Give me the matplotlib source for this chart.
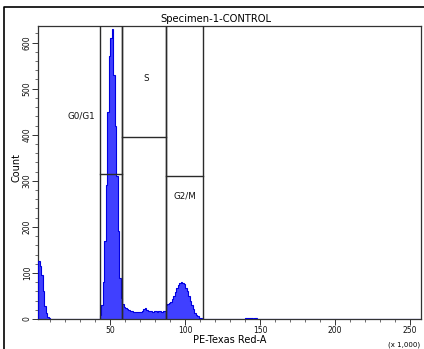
import numpy as np
import matplotlib
matplotlib.use("Agg")
import matplotlib.pyplot as plt
from matplotlib.lines import Line2D

# ---- data (x in thousands, counts per 1k bin) ----
debris_start = 2
debris_counts = [125, 115, 95, 60, 28, 12, 5, 2, 1]

g1_start = 43
g1_counts = [8, 30, 80, 170, 290, 450, 570, 610, 630, 530, 420, 310, 190, 90, 45, 32, 26]

s_start = 60
s_counts = [24, 21, 19, 18, 17, 16, 16, 16, 16, 16, 16, 18, 21, 23, 20, 18,
            17, 17, 16, 17, 17, 16, 17, 17, 16, 17, 18]

g2_start = 87
g2_counts = [30, 33, 35, 37, 44, 51, 58, 67, 74, 79, 81, 79, 75, 68, 60, 50,
             40, 30, 21, 14, 9, 6, 3, 2, 1]

tail_bins = [118, 126, 140, 141, 142, 143, 144, 145, 146, 147, 148, 150, 198]
tail_counts = [1, 1, 2, 3, 3, 2, 2, 1, 2, 2, 1, 1, 1]

# gates: (x_left, x_right, marker height)
gate_names = ["G0/G1", "S", "G2/M"]
gate_edges = [(43.1, 57.8), (57.8, 87.3), (87.3, 112.0)]
gate_levels = [315, 395, 311]
gate_label_pos = [(30.7, 440), (73.8, 523), (100.0, 268)]

x_ticks = [50, 100, 150, 200, 250]
y_ticks = [0, 100, 200, 300, 400, 500, 600]

# ---- assemble histogram ----
nbins = 262
counts = np.zeros(nbins)
for start, vals in [(debris_start, debris_counts), (g1_start, g1_counts),
                    (s_start, s_counts), (g2_start, g2_counts)]:
    counts[start:start + len(vals)] = vals
for b, v in zip(tail_bins, tail_counts):
    counts[b] = v
edges = np.arange(nbins + 1, dtype=float)

W, H = 424, 349
fig = plt.figure(figsize=(W / 100, H / 100), dpi=100)
ax = fig.add_axes([38 / W, 1 - 319 / H, 383 / W, 293 / H])

ax.stairs(counts, edges, fill=True, facecolor="#4040ff", edgecolor="none", zorder=2)
ax.stairs(counts, edges, fill=False, color="#0000e0", lw=0.8, zorder=3)

gate_col = "#2a2a2a"
for (xl, xr), lev in zip(gate_edges, gate_levels):
    ax.axvline(xl, color=gate_col, lw=1.0, zorder=4)
    ax.axvline(xr, color=gate_col, lw=1.0, zorder=4)
    ax.plot([xl, xr], [lev, lev], color=gate_col, lw=1.0, zorder=4)
for name, (gx, gy) in zip(gate_names, gate_label_pos):
    ax.text(gx, gy, name, fontsize=6.3, ha="center", va="center", color="#111111")

ax.set_xlim(1.8, 257.3)
ax.set_ylim(0, 636)
ax.set_xticks(x_ticks)
ax.set_xticks(np.arange(10, 260, 10), minor=True)
ax.set_yticks(y_ticks)
ax.set_yticks(np.arange(20, 636, 20), minor=True)
ax.tick_params(axis="both", which="major", direction="out", length=4, width=0.7,
               labelsize=5.5, pad=1.0, colors="#333333", labelcolor="#111111")
ax.tick_params(axis="y", which="major", pad=0.5)
ax.tick_params(axis="both", which="minor", direction="out", length=2.5, width=0.6,
               colors="#555555")
for lab in ax.get_yticklabels():
    lab.set_rotation(90)
    lab.set_va("center")
for sp in ax.spines.values():
    sp.set_linewidth(0.9)
    sp.set_color("#333333")

fig.text(216 / W, 1 - 19 / H, "Specimen-1-CONTROL", ha="center", va="center", fontsize=7.2)
fig.text(229.5 / W, 1 - 340 / H, "PE-Texas Red-A", ha="center", va="center", fontsize=7.0)
fig.text(420 / W, 1 - 344.5 / H, "(x 1,000)", ha="right", va="center", fontsize=5.0)
fig.text(16 / W, 1 - 168 / H, "Count", ha="center", va="center", rotation=90, fontsize=7.0)

# outer frame
fig.add_artist(Line2D([4 / W, 4 / W, 424 / W], [0, 1 - 7 / H, 1 - 7 / H],
                      transform=fig.transFigure, color="black", lw=1.2))

fig.savefig("out.png", dpi=100)
